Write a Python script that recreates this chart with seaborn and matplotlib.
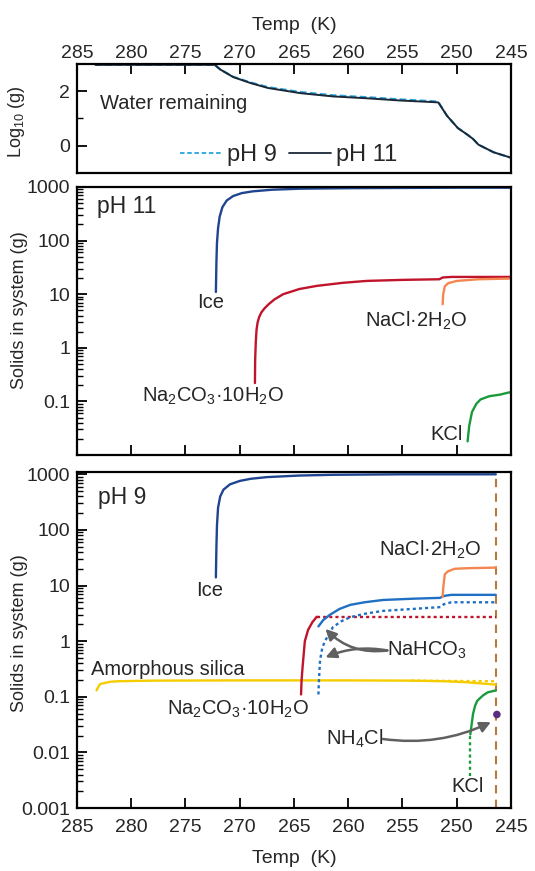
import matplotlib
matplotlib.use('Agg')
import matplotlib.pyplot as plt
import matplotlib.ticker as mticker
import seaborn as sns

sns.set_style('ticks')
plt.rcParams['font.family'] = ['Liberation Sans', 'DejaVu Sans']
plt.rcParams['mathtext.fontset'] = 'custom'
plt.rcParams['mathtext.rm'] = 'Liberation Sans'
plt.rcParams['mathtext.it'] = 'Liberation Sans:italic'
plt.rcParams['mathtext.bf'] = 'Liberation Sans:bold'

# ---------------- data ----------------
# Panel 1: water remaining (log10 g)
water_T = [283.3, 272.3, 271.8, 270.6, 269.0, 267.4, 264.4, 261.4, 258.2, 255.2, 252.1, 251.7,
           250.9, 249.9, 249.0, 248.5, 248.0, 246.6, 245.0]
water_ph11 = [2.97, 2.97, 2.8, 2.52, 2.3, 2.12, 1.93, 1.81, 1.74, 1.66, 1.6, 1.59,
              1.1, 0.65, 0.4, 0.25, 0.04, -0.24, -0.44]
water_ph9 = [2.97, 2.97, 2.8, 2.53, 2.32, 2.15, 1.97, 1.85, 1.78, 1.7, 1.63, 1.61,
             1.1, 0.65, 0.4, 0.25, 0.04, -0.24, -0.44]

# Panel 2: pH 11 solids (g)
ice11_T = [272.2, 272.15, 272.1, 272.0, 271.85, 271.6, 271.2, 270.6, 269.8, 268.8, 267.0,
           264.4, 260.0, 255.0, 250.0, 245.0]
ice11_v = [11, 40, 90, 170, 280, 420, 560, 680, 770, 830, 890, 930, 950, 960, 970, 970]
na2co3_11_T = [268.6, 268.58, 268.52, 268.45, 268.35, 268.2, 268.0, 267.7, 267.3, 266.8, 266.0,
               264.5, 262.9, 260.5, 258.3, 255.0, 251.6, 251.3, 250.5, 245.0]
na2co3_11_v = [0.22, 0.6, 1.3, 2.2, 3.0, 3.8, 4.6, 5.5, 6.6, 8.0, 10, 12.5, 14.3, 16.3, 17.7,
               18.5, 19.0, 20.5, 21, 21]
nacl11_T = [251.3, 251.25, 251.1, 250.8, 250.0, 248.0, 245.0]
nacl11_v = [6.5, 10, 14, 16, 17.7, 19, 19.6]
kcl11_T = [249.0, 248.85, 248.6, 248.2, 247.8, 247.0, 246.0, 245.0]
kcl11_v = [0.018, 0.035, 0.063, 0.09, 0.109, 0.125, 0.134, 0.15]

# Panel 3: pH 9 solids (g)
ice9_T = [272.2, 272.15, 272.1, 272.0, 271.8, 271.5, 270.9, 270.0, 269.0, 267.5, 264.5, 261.4,
          255.0, 250.0, 246.4]
ice9_v = [14, 50, 120, 250, 400, 530, 660, 760, 830, 890, 950, 980, 1000, 1000, 1000]
na2co3_9_T = [264.35, 264.3, 264.2, 264.0, 263.7, 263.3, 262.9]
na2co3_9_v = [0.11, 0.2, 0.36, 1.0, 1.6, 2.2, 2.75]
na2co3_9_meta_T = [262.9, 246.4]
na2co3_9_meta_v = [2.75, 2.75]
nahco3_T = [262.75, 262.3, 261.7, 260.8, 259.8, 258.5, 256.8, 254.0, 251.55, 251.2, 250.5, 246.4]
nahco3_v = [1.84, 2.4, 2.97, 3.8, 4.5, 5.0, 5.5, 5.8, 6.0, 6.5, 6.8, 6.8]
nahco3_meta_T = [262.75, 262.7, 262.6, 262.4, 262.15, 261.4, 260.6, 259.8, 258.5, 256.8, 254.0,
                 251.5, 251.2, 250.5, 246.4]
nahco3_meta_v = [0.11, 0.2, 0.45, 0.75, 1.0, 1.8, 2.3, 2.7, 3.1, 3.5, 3.8, 4.1, 4.6, 5.0, 5.0]
nacl9_T = [251.3, 251.25, 251.1, 250.8, 250.2, 249.0, 246.4]
nacl9_v = [6.2, 9, 16, 18, 20, 20.5, 21]
silica_T = [283.2, 283.0, 282.85, 282.0, 281.3, 278.0, 270.0, 260.0, 254.2, 251.0, 249.0, 247.5, 246.4]
silica_v = [0.13, 0.155, 0.17, 0.185, 0.19, 0.195, 0.197, 0.197, 0.195, 0.19, 0.182, 0.172, 0.165]
silica_meta_T = [254.2, 246.4]
silica_meta_v = [0.195, 0.19]
kcl9_T = [248.75, 248.6, 248.5, 248.3, 248.1, 247.6, 247.15, 246.4]
kcl9_v = [0.021, 0.035, 0.049, 0.07, 0.085, 0.105, 0.12, 0.13]
kcl9_meta_T = [248.75, 248.75]
kcl9_meta_v = [0.0038, 0.021]
nh4cl_T = [246.3]
nh4cl_v = [0.048]
end_T = 246.4

xticks = [285, 280, 275, 270, 265, 260, 255, 250, 245]

# ---------------- colours ----------------
C_ICE = '#1f4591'
C_RED = '#c0142c'
C_ORA = '#f48650'
C_GRN = '#1a9a3c'
C_BLU = '#1f6fc2'
C_YEL = '#f5cc00'
C_PUR = '#5a2d82'
C_GRY = '#606060'
C_BRN = '#b87a3a'
C_PH9 = '#29a3dd'
C_PH11 = '#1b2838'
DOT = (0, (1.3, 1.3))
LW = 1.7
FS = 14.5

fig = plt.figure(figsize=(5.35, 8.71), dpi=100)
ax1 = fig.add_axes([77/535, 1-173/871, 434/535, 109/871])
ax2 = fig.add_axes([77/535, 1-455/871, 434/535, 268/871])
ax3 = fig.add_axes([77/535, 1-808/871, 434/535, 336/871])


def line(ax, T, v, color, ls='-', lw=LW):
    sns.lineplot(x=T, y=v, ax=ax, color=color, linestyle=ls, lw=lw,
                 estimator=None, sort=False, legend=False)


def style(ax):
    for s in ax.spines.values():
        s.set_linewidth(1.6)
        s.set_color('black')
    ax.tick_params(which='major', direction='in', length=7, width=1.3, labelsize=14,
                   color='black')
    ax.tick_params(which='minor', direction='in', length=4, width=1.0, color='black')
    ax.tick_params(axis='y', which='major', pad=5)
    ax.tick_params(axis='x', which='major', pad=8)
    ax.set_xlim(285, 245)
    ax.set_xticks(xticks)


# ---- panel 1 ----
line(ax1, water_T, water_ph9, C_PH9, ls=(0, (3, 1.5)), lw=1.6)
line(ax1, water_T, water_ph11, C_PH11, lw=1.4)
style(ax1)
ax1.tick_params(axis='x', which='major', pad=1.5)
ax1.set_ylim(-1, 3)
ax1.set_yticks([0, 2])
ax1.yaxis.set_minor_locator(mticker.FixedLocator([1]))
ax1.xaxis.tick_top()
ax1.xaxis.set_label_position('top')
ax1.set_xlabel('Temp  (K)', fontsize=14, labelpad=11)
ax1.set_ylabel(r'Log$\mathregular{_{10}}$ (g)', fontsize=13)
ax1.yaxis.set_label_coords(-0.115, 0.47)
ax1.text(282.9, 1.56, 'Water remaining', fontsize=FS, ha='left', va='center')
h9, = ax1.plot([], [], color=C_PH9, ls=(0, (2.5, 1.5)), lw=1.3)
h11, = ax1.plot([], [], color=C_PH11, lw=1.3)
ax1.legend([h9, h11], ['pH 9', 'pH 11'], ncol=2, loc='center',
           bbox_to_anchor=(0.487, 0.165), frameon=False, fontsize=17,
           handlelength=1.8, handletextpad=0.2, columnspacing=0.5,
           borderpad=0, borderaxespad=0)

# ---- panel 2 ----
ax2.set_yscale('log')
line(ax2, ice11_T, ice11_v, C_ICE)
line(ax2, na2co3_11_T, na2co3_11_v, C_RED)
line(ax2, nacl11_T, nacl11_v, C_ORA)
line(ax2, kcl11_T, kcl11_v, C_GRN)
style(ax2)
ax2.set_ylim(0.01, 1000)
ax2.set_yticks([0.1, 1, 10, 100, 1000])
ax2.set_yticklabels(['0.1', '1', '10', '100', '1000'])
ax2.yaxis.set_minor_locator(mticker.LogLocator(base=10, subs=range(2, 10), numticks=20))
ax2.yaxis.set_minor_formatter(mticker.NullFormatter())
ax2.set_xticklabels([])
ax2.set_xlabel('')
ax2.set_ylabel('Solids in system (g)', fontsize=13)
ax2.yaxis.set_label_coords(-0.113, 0.54)
ax2.text(283.2, 425, 'pH 11', fontsize=16.5, ha='left', va='center')
ax2.text(272.7, 7.1, 'Ice', fontsize=FS, ha='center', va='center')
ax2.text(272.5, 0.123, r'Na$\mathregular{_2}$CO$\mathregular{_3}$·10H$\mathregular{_2}$O',
         fontsize=FS, ha='center', va='center')
ax2.text(253.7, 3.2, r'NaCl·2H$\mathregular{_2}$O', fontsize=FS, ha='center', va='center')
ax2.text(250.9, 0.024, 'KCl', fontsize=FS, ha='center', va='center')

# ---- panel 3 ----
ax3.set_yscale('log')
ax3.axvline(end_T, color=C_BRN, ls=(0, (4, 3)), lw=1.5)
line(ax3, silica_T, silica_v, C_YEL)
line(ax3, silica_meta_T, silica_meta_v, C_YEL, ls=DOT)
line(ax3, ice9_T, ice9_v, C_ICE)
line(ax3, na2co3_9_T, na2co3_9_v, C_RED)
line(ax3, na2co3_9_meta_T, na2co3_9_meta_v, C_RED, ls=DOT)
line(ax3, nahco3_meta_T, nahco3_meta_v, C_BLU, ls=DOT)
line(ax3, nahco3_T, nahco3_v, C_BLU)
line(ax3, nacl9_T, nacl9_v, C_ORA)
line(ax3, kcl9_meta_T, kcl9_meta_v, C_GRN, ls=DOT)
line(ax3, kcl9_T, kcl9_v, C_GRN)
sns.scatterplot(x=nh4cl_T, y=nh4cl_v, ax=ax3, color=C_PUR, s=30, edgecolor='none',
                zorder=5, legend=False)
style(ax3)
ax3.set_ylim(0.001, 1100)
ax3.set_yticks([0.001, 0.01, 0.1, 1, 10, 100, 1000])
ax3.set_yticklabels(['0.001', '0.01', '0.1', '1', '10', '100', '1000'])
ax3.yaxis.set_minor_locator(mticker.LogLocator(base=10, subs=range(2, 10), numticks=20))
ax3.yaxis.set_minor_formatter(mticker.NullFormatter())
ax3.set_xticklabels([str(t) for t in xticks])
ax3.set_xlabel('Temp  (K)', fontsize=14, labelpad=10)
ax3.set_ylabel('Solids in system (g)', fontsize=13)
ax3.yaxis.set_label_coords(-0.113, 0.52)
ax3.text(283.1, 390, 'pH 9', fontsize=16.5, ha='left', va='center')
ax3.text(272.8, 8.1, 'Ice', fontsize=FS, ha='center', va='center')
ax3.text(252.4, 43, r'NaCl·2H$\mathregular{_2}$O', fontsize=FS, ha='center', va='center')
ax3.text(276.65, 0.31, 'Amorphous silica', fontsize=FS, ha='center', va='center')
ax3.text(270.2, 0.06, r'Na$\mathregular{_2}$CO$\mathregular{_3}$·10H$\mathregular{_2}$O',
         fontsize=FS, ha='center', va='center')
ax3.text(256.4, 0.68, r'NaHCO$\mathregular{_3}$', fontsize=FS, ha='left', va='center')
ax3.text(256.8, 0.0174, r'NH$\mathregular{_4}$Cl', fontsize=FS, ha='right', va='center')
ax3.text(249.0, 0.0024, 'KCl', fontsize=FS, ha='center', va='center')

arrow = dict(arrowstyle='-|>', color=C_GRY, lw=1.8, mutation_scale=16, shrinkA=0, shrinkB=0)
ax3.annotate('', xy=(262.1, 1.66), xytext=(256.4, 0.68),
             arrowprops=dict(arrow, connectionstyle='arc3,rad=-0.25'))
ax3.annotate('', xy=(262.1, 0.51), xytext=(256.4, 0.68),
             arrowprops=dict(arrow, connectionstyle='arc3,rad=0.15'))
ax3.annotate('', xy=(246.85, 0.035), xytext=(256.8, 0.0174),
             arrowprops=dict(arrow, connectionstyle='arc3,rad=0.15'))

fig.savefig('out.png', dpi=100)
